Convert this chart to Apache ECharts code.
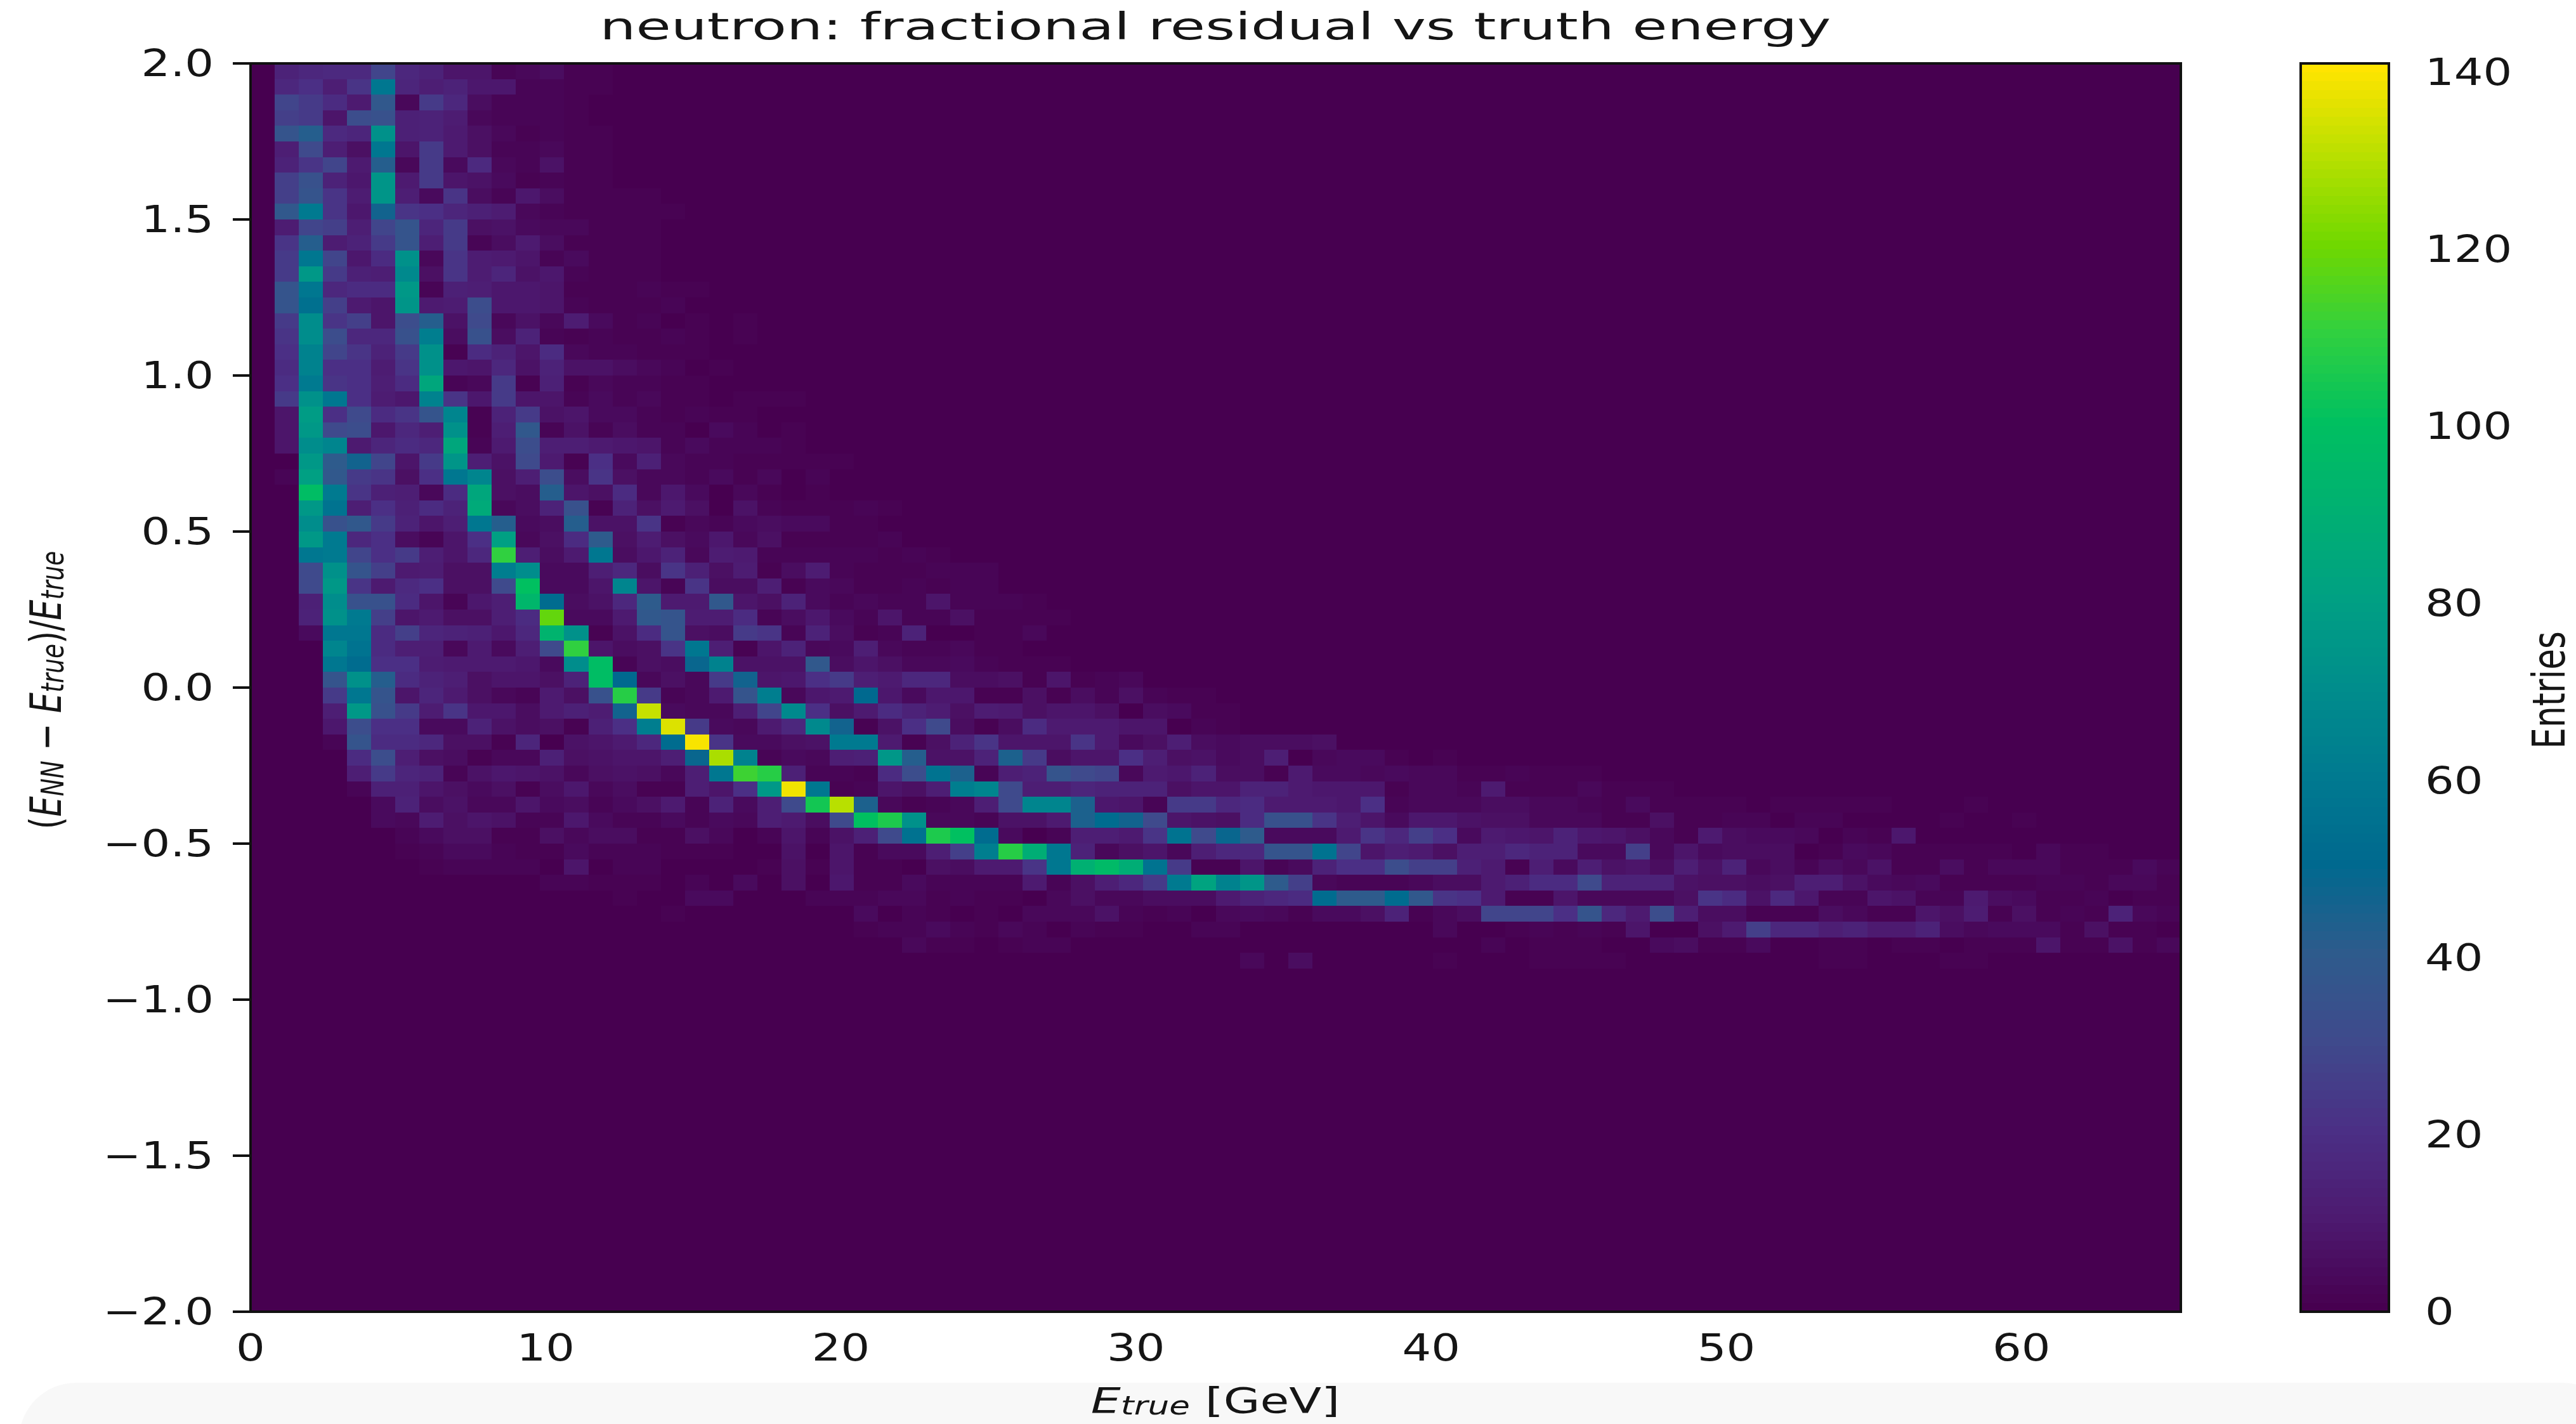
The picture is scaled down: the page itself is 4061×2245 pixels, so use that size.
<!DOCTYPE html>
<html>
<head>
<meta charset="utf-8">
<title>neutron residual</title>
<style>html,body{margin:0;padding:0;background:#fff}#chart{width:4061px;height:2245px}</style>
<script src="https://cdn.jsdelivr.net/npm/echarts@6/dist/echarts.min.js"></script>
</head>
<body>
<div id="chart"></div>
<script>
// histogram binning: 80 x 80 bins
const xMax = 65.4;
const yMin = -2;
const yMax = 2;
const nBinsX = 80;
const nBinsY = 80;
const xTicks = [0, 10, 20, 30, 40, 50, 60];
const yTicks = [-2, -1.5, -1, -0.5, 0, 0.5, 1, 1.5, 2];
const colorbarTicks = [0, 20, 40, 60, 80, 100, 120, 140];
const colorbarMax = 141;
const viridisStops = ['#470050', '#4d1a70', '#4b2f85', '#3f4a8c', '#2e5b8c', '#00698f', '#007a90', '#008d8c', '#00a083', '#00b072', '#00c060', '#30d040', '#70d800', '#b8e000', '#ffe400'];

// entries per bin. one line per y bin from the top (y=2.0) down, columns from E=0, missing tail = 0
const counts = [
[0,14,16,17,17,28,16,14,8,8,2,3,5,1,1],
[0,16,20,12,22,58,15,12,14,9,9,2,2,1,1],
[0,28,24,18,10,38,3,24,16,5,2,2,2,1],
[0,26,24,8,32,34,13,14,11,3,2,2,2,1],
[0,36,42,17,15,72,13,14,10,6,3,1,2,1,1],
[0,12,30,12,6,58,8,24,10,6,2,2,3,1,1],
[0,14,22,28,10,42,3,24,4,17,3,2,7,1,1],
[0,26,34,14,9,74,10,24,8,7,4,1,2,1,1],
[0,26,36,22,11,74,12,4,22,5,2,9,5,1,1,1,1],
[0,38,60,22,9,46,22,20,15,13,11,3,2,1,1,1,1,1],
[0,11,28,26,12,28,36,15,24,6,7,4,3,3,1,1,1],
[0,22,42,11,14,24,36,12,24,2,5,10,5,1,1,1,1],
[0,24,58,28,9,18,72,3,22,11,10,8,2,4,1,1,1],
[0,24,76,24,13,12,68,6,22,11,15,7,9,2,1,1,1],
[0,36,58,16,18,18,76,2,13,12,9,9,8,1,1,1,2,1,1],
[0,36,54,26,10,8,74,10,11,32,9,9,8,2,1,1,1,2],
[0,24,70,22,26,8,32,42,7,30,3,7,3,11,4,1,2,0,1,0,1],
[0,22,70,32,16,16,34,62,5,34,5,14,2,1,2,1,1,2,1,0,1],
[0,20,64,28,22,14,24,72,1,18,14,8,18,3,2,2,1,1,1],
[0,18,64,20,20,11,22,72,9,8,16,7,14,7,7,5,3,2,0,1],
[0,20,60,22,20,12,18,84,2,3,24,1,13,1,3,2,2,1,1],
[0,24,72,58,20,11,9,64,22,9,24,8,8,2,4,2,3,1,1,0,1,1,1],
[0,8,78,20,30,18,22,36,66,1,14,24,7,8,4,4,2,1,2,1,1],
[0,8,76,30,32,9,16,12,72,1,12,38,2,7,2,5,2,2,0,4,2,0,1],
[0,8,70,66,10,15,18,16,84,2,10,32,12,12,10,9,8,2,4,2,2,2,1],
[0,0,76,40,46,28,8,24,74,12,7,30,10,1,20,4,13,3,2,2,1,1,1,1,1],
[0,2,80,38,24,22,6,20,58,66,6,12,32,5,22,6,3,3,2,4,1,3,0,2],
[0,0,98,60,22,13,12,3,18,84,6,5,42,8,6,18,3,9,4,0,3,1,0,1],
[0,0,76,56,12,20,13,18,14,86,3,5,14,34,1,14,6,10,6,0,7,2,1,1,1,2,1],
[0,0,70,34,38,24,14,8,12,58,42,4,5,42,7,7,22,1,3,2,4,5,4,4,1,1],
[0,0,76,60,16,20,5,2,8,20,80,3,6,18,40,6,11,6,4,9,3,6,1,1,1,1,2],
[0,0,58,60,28,20,24,12,8,16,110,12,5,10,58,5,9,14,3,11,10,2,2,2,2,2,1,2,1],
[0,0,30,72,36,26,10,11,6,6,62,70,4,4,12,16,5,22,13,6,11,1,5,11,2,1,1,1,2,2,2],
[0,0,30,76,22,10,17,20,6,6,30,100,4,4,8,66,8,2,22,5,5,12,1,4,3,1,1,2,1,2,2],
[0,0,13,70,34,34,18,8,2,9,12,94,52,5,7,16,40,10,10,38,8,6,14,4,2,3,2,2,8,2,2,2,1],
[0,0,14,72,60,26,8,10,6,6,12,18,118,4,4,10,38,36,11,11,18,2,5,9,4,2,8,2,2,6,1,1,1,1],
[0,0,4,58,58,18,26,15,14,13,9,16,92,72,1,7,18,36,6,5,24,22,2,14,5,1,2,14,0,0,1,1,3],
[0,0,0,66,56,18,12,12,3,10,4,12,30,110,8,5,6,22,58,12,1,8,14,3,4,12,3,2,2,3,1,1],
[0,0,0,58,52,20,20,11,10,10,10,9,4,70,98,2,6,5,48,64,7,7,7,38,5,8,6,3,3,4,2,1,1,1],
[0,0,0,36,72,42,18,14,12,6,8,8,6,14,98,50,3,6,3,24,46,8,9,20,24,12,10,16,16,5,5,6,1,8,1,2,3],
[0,0,0,24,58,36,8,15,10,6,3,2,10,6,34,108,24,2,3,10,36,62,3,9,10,50,9,4,9,9,1,1,6,1,5,2,6,2,1,1],
[0,0,0,12,76,34,24,11,22,9,9,5,10,13,11,46,132,4,3,3,12,28,68,20,6,10,18,14,11,6,11,10,6,8,8,6,0,5,4,1,1],
[0,0,0,9,32,20,20,4,4,14,7,5,6,1,13,20,62,135,24,4,3,10,16,68,46,1,7,20,30,5,1,5,18,10,10,10,8,8,0,2,1],
[0,0,0,2,36,18,18,16,6,6,1,15,0,7,8,10,16,52,139,22,4,4,6,7,60,60,10,1,6,14,22,8,8,8,22,10,4,6,12,5,4,5,5,5,6],
[0,0,0,0,18,32,12,6,5,1,3,3,13,6,7,8,8,12,48,128,64,2,4,3,12,13,75,42,7,7,14,44,24,5,8,8,20,12,6,7,4,5,12,0,3,4,4,1,0,1],
[0,0,0,0,12,24,15,14,2,7,9,8,7,3,6,7,6,3,12,58,112,108,13,2,2,1,18,32,56,44,2,12,14,36,30,28,3,10,9,14,5,5,1,10,4,4,3,4,3,3,1,1,2,1,1,1],
[0,0,0,0,2,13,13,8,6,4,6,1,5,9,3,5,1,1,12,8,20,76,138,58,1,2,8,6,12,62,66,30,12,12,15,14,14,14,6,8,8,14,14,10,9,9,9,1,3,3,2,10,1,1,1,3,1,1,1],
[0,0,0,0,0,4,14,5,7,3,3,8,4,5,2,4,6,10,2,14,4,12,30,104,130,44,3,1,2,3,12,30,66,66,44,9,8,2,24,24,16,18,10,10,10,9,20,2,3,3,3,5,5,3,3,2,1,4,1,1,1,1,0,1,1,1,1,1,0,0,0,1],
[0,0,0,0,0,4,3,11,6,8,7,2,2,9,4,2,2,4,2,4,3,12,10,5,30,100,106,72,3,3,2,7,7,10,44,52,46,30,8,7,6,18,34,34,22,12,8,4,9,9,7,6,6,3,3,3,1,1,6,1,1,2,2,0,2,2,0,0,0,0,1,0,0,1],
[0,0,0,0,0,0,2,4,6,6,1,1,6,3,5,5,1,1,6,3,0,2,8,2,7,13,30,55,106,100,52,4,0,2,12,12,10,22,56,30,48,40,4,4,4,10,22,16,26,20,4,10,9,8,14,9,8,6,3,1,10,5,4,4,3,0,2,1,9],
[0,0,0,0,0,0,1,2,4,4,2,1,1,4,2,2,2,1,1,1,0,0,7,0,8,1,4,4,12,26,62,108,88,58,14,3,6,8,3,12,16,16,36,36,56,28,8,12,10,6,12,12,16,14,14,4,4,26,3,8,4,5,5,5,0,1,4,3,1,1,1,1,1,0,3,1,1],
[0,0,0,0,0,0,0,1,2,2,2,2,0,8,0,2,2,0,0,0,0,1,6,1,8,1,1,0,6,5,10,10,22,58,90,96,88,56,24,1,1,8,2,4,14,20,20,32,26,26,13,10,1,12,4,12,7,8,5,12,7,14,3,5,2,5,3,7,1,1,5,1,3,3,3,1,1,1,4,2],
[0,0,0,0,0,0,0,0,0,0,0,0,2,2,1,1,1,0,2,0,4,0,6,0,9,1,1,4,2,2,2,2,10,2,6,12,16,24,60,82,64,74,40,26,3,2,2,2,3,5,5,10,13,18,18,30,14,14,14,7,6,6,5,6,12,12,7,4,3,4,1,1,1,1,2,2,1,3,3,1],
[0,0,0,0,0,0,0,0,0,0,0,0,0,0,0,1,0,0,4,4,0,0,0,2,2,2,3,3,1,2,1,1,0,3,6,3,3,5,5,5,10,14,16,18,52,40,40,52,38,22,20,10,1,1,8,3,3,3,3,6,22,18,7,17,9,2,2,8,7,2,2,10,5,4,1,1,2,0,1,1],
[0,0,0,0,0,0,0,0,0,0,0,0,0,0,0,0,0,1,0,0,0,0,0,0,0,4,0,2,1,0,1,0,3,3,3,7,2,1,2,0,3,4,3,1,4,4,6,14,1,3,5,28,28,28,20,36,16,10,32,12,5,5,1,1,1,5,3,1,1,8,6,11,1,6,1,2,1,14,3,2],
[0,0,0,0,0,0,0,0,0,0,0,0,0,0,0,0,0,0,0,0,0,0,0,0,0,1,2,2,4,2,1,3,2,0,2,1,1,0,0,2,2,0,0,0,0,0,0,0,0,3,0,0,1,2,1,2,1,8,0,0,6,10,26,16,16,12,14,10,10,14,5,3,4,4,4,1,6,1,1],
[0,0,0,0,0,0,0,0,0,0,0,0,0,0,0,0,0,0,0,0,0,0,0,0,0,0,0,3,1,1,0,1,2,2,0,0,0,0,0,0,0,0,0,0,0,0,0,0,0,0,0,2,0,1,1,1,0,0,4,5,1,1,4,0,0,1,1,0,1,1,0,1,1,1,8,1,1,7,1,3],
[0,0,0,0,0,0,0,0,0,0,0,0,0,0,0,0,0,0,0,0,0,0,0,0,0,0,0,0,0,0,0,0,0,0,0,0,0,0,0,0,0,3,0,5,0,0,0,0,0,1,0,0,0,1,1,1,1,0,0,0,0,0,0,0,0,1,1,0,0,0,1,1]
];

const chartDom = document.getElementById('chart');
const chart = echarts.init(chartDom);

const xBin = xMax / nBinsX;
const yBin = (yMax - yMin) / nBinsY;

const cells = [];
for (let j = 0; j < nBinsY; j++) {
  const row = counts[j] || [];
  for (let i = 0; i < nBinsX; i++) {
    cells.push([i * xBin, yMax - (j + 1) * yBin, row[i] || 0]);
  }
}

// colorbar is a stack of 1 entry high rects on its own axis
const barLevels = [];
for (let v = 0; v < colorbarMax; v++) barLevels.push([0, v, v]);

function drawCell(w, h) {
  return function (params, api) {
    const a = api.coord([api.value(0), api.value(1) + h]);
    const b = api.coord([api.value(0) + w, api.value(1)]);
    const x0 = Math.round(a[0]), y0 = Math.round(a[1]);
    return {
      type: 'rect',
      shape: { x: x0, y: y0, width: Math.round(b[0]) - x0, height: Math.round(b[1]) - y0 },
      style: { fill: api.visual('color') }
    };
  };
}

const tickLine = (len, w) => ({ show: true, length: len, lineStyle: { color: '#111', width: w } });

const option = {
  animation: false,
  backgroundColor: '#ffffff',
  grid: [
    { left: 395, top: 100, width: 3043, height: 1968 },
    { left: 3627, top: 100, width: 139, height: 1968 }
  ],
  xAxis: [
    {
      gridIndex: 0, type: 'value', min: 0, max: xMax, splitLine: { show: false },
      axisLine: { show: false },
      axisTick: Object.assign(tickLine(18, 3), { customValues: xTicks }),
      axisLabel: { show: false }
    },
    { gridIndex: 1, type: 'value', min: 0, max: 1, show: false }
  ],
  yAxis: [
    {
      gridIndex: 0, type: 'value', min: yMin, max: yMax, interval: 0.5, splitLine: { show: false },
      axisLine: { show: false },
      axisTick: tickLine(28, 4),
      axisLabel: { show: false }
    },
    {
      gridIndex: 1, type: 'value', position: 'right', min: 0, max: colorbarMax, splitLine: { show: false },
      axisLine: { show: false },
      axisTick: Object.assign(tickLine(25, 4), { customValues: colorbarTicks }),
      axisLabel: { show: false }
    }
  ],
  visualMap: {
    show: false, type: 'continuous', min: 0, max: 140, dimension: 2, seriesIndex: [0, 1],
    inRange: { color: viridisStops }
  },
  series: [
    {
      type: 'custom', xAxisIndex: 0, yAxisIndex: 0, data: cells, progressive: 0,
      encode: { x: 0, y: 1 }, renderItem: drawCell(xBin, yBin), clip: true
    },
    {
      type: 'custom', xAxisIndex: 1, yAxisIndex: 1, data: barLevels, progressive: 0,
      encode: { x: 0, y: 1 }, renderItem: drawCell(1, 1), clip: true
    }
  ],
  graphic: [
    // faint rounded band along the bottom of the screenshot
    { type: 'rect', z: -1, silent: true, shape: { x: 30, y: 2180, width: 4100, height: 200, r: 90 }, style: { fill: '#f8f8f8' } },
    // frames
    { type: 'rect', z: 50, silent: true, shape: { x: 395, y: 100, width: 3043, height: 1968 }, style: { fill: 'none', stroke: '#111', lineWidth: 4 } },
    { type: 'rect', z: 50, silent: true, shape: { x: 3627, y: 100, width: 139, height: 1968 }, style: { fill: 'none', stroke: '#111', lineWidth: 4 } },
    {
      type: 'text', z: 50, silent: true, x: 1916, y: 47, scaleX: 1.55,
      style: { text: 'neutron: fractional residual vs truth energy', fill: '#151515', font: '58px "DejaVu Sans"', align: 'center', verticalAlign: 'middle' }
    },
    {
      type: 'text', z: 50, silent: true, x: 1916, y: 2212, scaleX: 1.33,
      style: {
        text: '{e|E}{s|true}{t| [GeV]}', fill: '#151515', align: 'center', verticalAlign: 'middle',
        rich: {
          e: { fontFamily: 'DejaVu Sans', fontStyle: 'italic', fontSize: 56, fill: '#151515' },
          s: { fontFamily: 'DejaVu Sans', fontStyle: 'italic', fontSize: 40, fill: '#151515', padding: [14, 0, 0, 0], verticalAlign: 'bottom' },
          t: { fontFamily: 'DejaVu Sans', fontSize: 56, fill: '#151515' }
        }
      }
    },
    {
      type: 'text', z: 50, silent: true, x: 78, y: 1088, rotation: Math.PI / 2, scaleX: 0.75,
      style: {
        text: '{t|(}{e|E}{s|NN}{t| \u2212 }{e|E}{s|true}{t|)/}{e|E}{s|true}', fill: '#151515', align: 'center', verticalAlign: 'middle',
        rich: {
          e: { fontFamily: 'DejaVu Sans', fontStyle: 'italic', fontSize: 68, fill: '#151515' },
          s: { fontFamily: 'DejaVu Sans', fontStyle: 'italic', fontSize: 50, fill: '#151515', padding: [16, 0, 0, 0], verticalAlign: 'bottom' },
          t: { fontFamily: 'DejaVu Sans', fontSize: 68, fill: '#151515' }
        }
      }
    },
    {
      type: 'text', z: 50, silent: true, x: 4024, y: 1088, rotation: Math.PI / 2, scaleX: 0.74,
      style: { text: 'Entries', fill: '#151515', font: '72px "DejaVu Sans"', align: 'center', verticalAlign: 'middle' }
    }
  ]
};

chart.setOption(option);

// the picture stretches its tick labels sideways, axisLabel can't do that, so place them from the axes
function tickText(x, y, text, align) {
  return {
    type: 'text', z: 50, silent: true, x: x, y: y, scaleX: 1.24,
    style: { text: text, fill: '#151515', font: '58px "DejaVu Sans"', align: align, verticalAlign: 'middle' }
  };
}
const xLabels = xTicks.map(v => tickText(chart.convertToPixel({ xAxisIndex: 0 }, v), 2130, String(v), 'center'));
const yLabels = yTicks.map(v => tickText(337, chart.convertToPixel({ yAxisIndex: 0 }, v) + 5, v.toFixed(1).replace('-', '\u2212'), 'right'));
const barLabels = colorbarTicks.map(v => tickText(3823, chart.convertToPixel({ yAxisIndex: 1 }, v) + 5, String(v), 'left'));
chart.setOption({ graphic: option.graphic.concat(xLabels, yLabels, barLabels) });

window.addEventListener('resize', () => {
  chart.resize();
});
</script>
</body>
</html>
